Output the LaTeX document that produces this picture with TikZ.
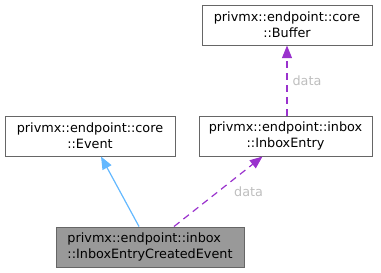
\documentclass[tikz,border=0pt]{standalone}
\usepackage{fontspec}
\setmainfont{DejaVu Sans}
\usepackage{tikz}
\usetikzlibrary{arrows.meta, positioning}
\definecolor{EdgeBlue}{HTML}{63B8FF}
\definecolor{EdgePurple}{HTML}{9A32CD}
\definecolor{BoxGray}{HTML}{666666}
\definecolor{BoxFill}{HTML}{999999}
\definecolor{LabelGray}{HTML}{BEBEBE}
\tikzset{
  class node/.style={
    rectangle, draw=BoxGray, fill=white, line width=0.75pt,
    minimum width=#1, minimum height=30pt, inner sep=0pt,
    align=center, font=\fontsize{9.6}{12}\selectfont
  },
  main node/.style={class node=#1, fill=BoxFill, align=left},
  inherit/.style={-{Triangle[length=9.5pt, width=7.5pt]}, line width=0.9pt, color=EdgeBlue},
  usage/.style={-{Triangle[length=9.5pt, width=7.5pt]}, line width=0.9pt, color=EdgePurple,
    dash pattern=on 5.25pt off 3.75pt},
  edge label/.style={text=LabelGray, inner sep=0pt, font=\fontsize{9.6}{12}\selectfont},
}

\begin{document}
\begin{tikzpicture}[x=0.75pt, y=-0.75pt]

  \useasboundingbox (0,0) rectangle (381,272);

  % -- classes --------------------------------------------------------------
  \node[class node=127.5pt] (buffer) at (287,25)
    {privmx::endpoint::core\\::Buffer};
  \node[class node=127.5pt] (event) at (90,136)
    {privmx::endpoint::core\\::Event};
  \node[class node=129.75pt] (entry) at (285.5,136)
    {privmx::endpoint::inbox\\::InboxEntry};
  \node[main node=141pt] (created) at (150,247)
    {privmx::endpoint::inbox\\::InboxEntryCreatedEvent};

  % -- edges ----------------------------------------------------------------
  \draw[usage] (buffer.south |- entry.north) -- (buffer.south)
    node[midway, right=3.75pt, edge label] {data};
  \draw[inherit] ([xshift=-8.25pt]created.north) -- ([xshift=8.25pt]event.south);
  \draw[usage] ([xshift=18pt]created.north) -- ([xshift=-17.25pt]entry.south)
    node[midway, right=11.5pt, edge label] {data};

\end{tikzpicture}
\end{document}
